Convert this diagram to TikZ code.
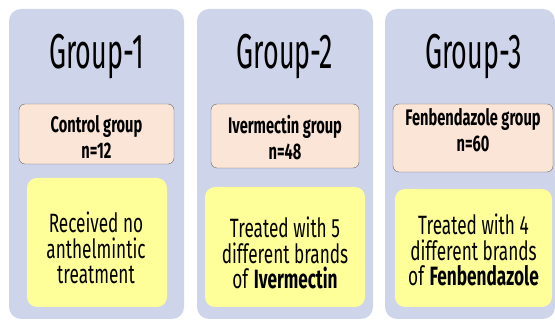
\documentclass[tikz,border=0pt]{standalone}
\usepackage{fontspec}
\newfontfamily\titlefont[FakeStretch=0.55]{Fira Sans}
\newfontfamily\narrowfont[FakeStretch=0.65]{Fira Sans}

\definecolor{groupblue}{RGB}{206,212,234}
\definecolor{peach}{RGB}{251,229,214}
\definecolor{paleyellow}{RGB}{255,255,153}

\tikzset{
  groupbox/.style={fill=groupblue, rounded corners=12pt, minimum width=#1, minimum height=310pt},
  namebox/.style={draw=black!60, fill=peach, rounded corners=6pt},
  nametext/.style={align=center, inner sep=0pt, font=\narrowfont\bfseries\fontsize{22.5}{26}\selectfont},
  notebox/.style={fill=paleyellow, rounded corners=10pt},
  notetext/.style={align=center, inner sep=0pt, font=\narrowfont\fontsize{26.5}{25.5}\selectfont},
  grouptitle/.style={font=\titlefont\fontsize{49}{56}\selectfont, inner sep=0pt}
}

\begin{document}
\begin{tikzpicture}[x=1pt, y=-1pt]
    \useasboundingbox (0,0) rectangle (555,320);

    % Group 1
    \node[groupbox=175pt] (bg1) at (96.5,164) {};
    \node[grouptitle] (title1) at (96.5,57) {Group-1};
    \node[namebox, minimum width=155pt, minimum height=60pt] (name1) at (96.5,134) {};
    \node[nametext] (nametext1) at (96.5,137) {Control group\\n=12};
    \node[notebox, minimum width=140pt, minimum height=129pt] (note1) at (97,242.5) {};
    \node[notetext] (notetext1) at (96,248) {Received no\\anthelmintic\\treatment};

    % Group 2
    \node[groupbox=176pt] (bg2) at (285,164) {};
    \node[grouptitle] (title2) at (285,57) {Group-2};
    \node[namebox, minimum width=148pt, minimum height=64pt] (name2) at (285,136) {};
    \node[nametext] (nametext2) at (285,138) {Ivermectin group\\n=48};
    \node[notebox, minimum width=160pt, minimum height=120pt] (note2) at (285,247) {};
    \node[notetext] (notetext2) at (285,253) {Treated with 5\\different brands\\of \textbf{Ivermectin}};

    % Group 3
    \node[groupbox=170pt] (bg3) at (470,164) {};
    \node[grouptitle] (title3) at (473.5,57) {Group-3};
    \node[namebox, minimum width=160pt, minimum height=68pt] (name3) at (473,138) {};
    \node[nametext] (nametext3) at (473,130) {Fenbendazole group\\n=60};
    \node[notebox, minimum width=157pt, minimum height=118pt] (note3) at (473.5,248) {};
    \node[notetext] (notetext3) at (473.5,250) {Treated with 4\\different brands\\of \textbf{Fenbendazole}};
\end{tikzpicture}
\end{document}
